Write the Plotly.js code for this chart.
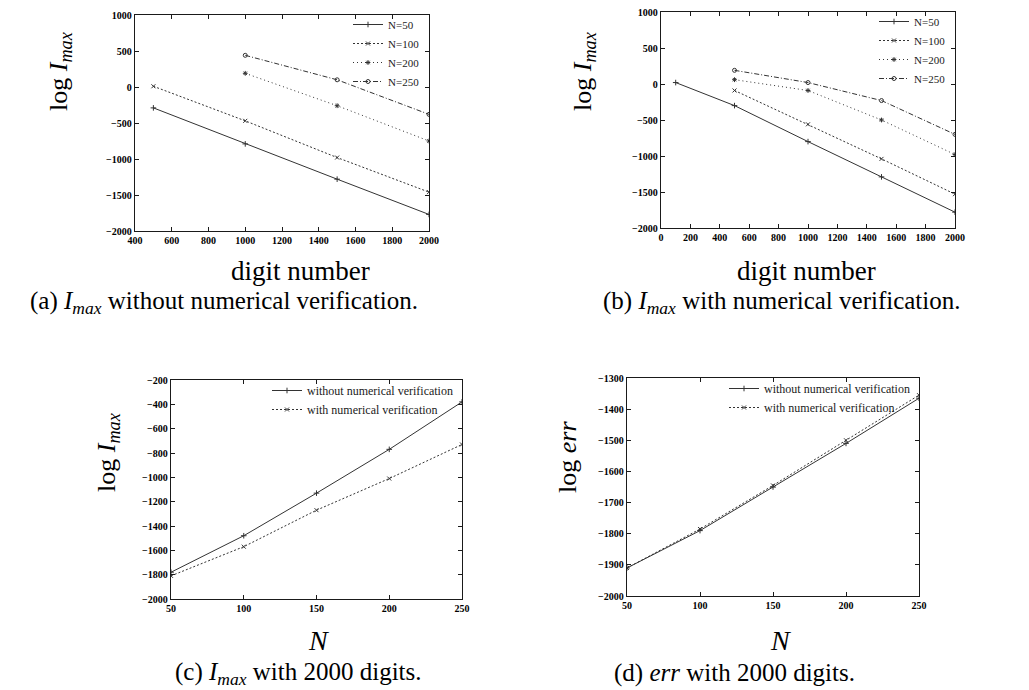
<!DOCTYPE html>
<html>
<head>
<meta charset="utf-8">
<script src="https://cdn.plot.ly/plotly-3.0.1.min.js"></script>
<style>html,body{margin:0;padding:0;background:#fff;}#chart{width:1029px;height:690px;}</style>
</head>
<body>
<div id="chart"></div>
<script>
// ---- data ----
// (a) Imax without numerical verification
const aDigits50 = [500, 1000, 1500, 2000];
const aN50 = [-290, -790, -1280, -1770];
const aDigits100 = [500, 1000, 1500, 2000];
const aN100 = [10, -470, -980, -1460];
const aDigits200 = [1000, 1500, 2000];
const aN200 = [190, -260, -750];
const aDigits250 = [1000, 1500, 2000];
const aN250 = [440, 100, -380];
// (b) Imax with numerical verification
const bDigits50 = [100, 500, 1000, 1500, 2000];
const bN50 = [20, -300, -800, -1290, -1780];
const bDigits = [500, 1000, 1500, 2000];
const bN100 = [-90, -560, -1040, -1530];
const bN200 = [60, -90, -500, -980];
const bN250 = [190, 20, -230, -700];
// (c) Imax with 2000 digits
const nValues = [50, 100, 150, 200, 250];
const cWithout = [-1780, -1480, -1130, -770, -380];
const cWith = [-1810, -1570, -1270, -1010, -730];
// (d) err with 2000 digits
const dWithout = [-1910, -1790, -1650, -1510, -1365];
const dWith = [-1910, -1785, -1645, -1500, -1355];

const legendLabels = ['N=50', 'N=100', 'N=200', 'N=250'];
const compLabels = ['without numerical verification', 'with numerical verification'];

// ---- styling ----
const W = 1029, H = 690;
const SERIF = 'Liberation Serif, Times New Roman, serif';
const INK = '#1a1a1a';
const LINE = '#333333';
const dx = (a, b) => [a / W, b / W];
const dy = (top, bot) => [1 - bot / H, 1 - top / H];

const styles = [
  {dash: 'solid', symbol: 'cross-thin-open', size: 4},
  {dash: '2px,2px', symbol: 'x-thin-open', size: 4},
  {dash: '1px,3px', symbol: 'asterisk-open', size: 4},
  {dash: '5px,2px,1px,2px', symbol: 'circle-open', size: 4}
];

function tr(x, y, name, i, xa, ya, leg) {
  const s = styles[i];
  return {
    x: x, y: y, name: name, type: 'scatter', mode: 'lines+markers',
    xaxis: xa, yaxis: ya, legend: leg,
    line: {color: LINE, width: 1, dash: s.dash},
    marker: {symbol: s.symbol, size: s.size, color: LINE, line: {color: LINE, width: 1}}
  };
}

const data = [
  tr(aDigits50, aN50, legendLabels[0], 0, 'x', 'y', 'legend'),
  tr(aDigits100, aN100, legendLabels[1], 1, 'x', 'y', 'legend'),
  tr(aDigits200, aN200, legendLabels[2], 2, 'x', 'y', 'legend'),
  tr(aDigits250, aN250, legendLabels[3], 3, 'x', 'y', 'legend'),
  tr(bDigits50, bN50, legendLabels[0], 0, 'x2', 'y2', 'legend2'),
  tr(bDigits, bN100, legendLabels[1], 1, 'x2', 'y2', 'legend2'),
  tr(bDigits, bN200, legendLabels[2], 2, 'x2', 'y2', 'legend2'),
  tr(bDigits, bN250, legendLabels[3], 3, 'x2', 'y2', 'legend2'),
  tr(nValues, cWithout, compLabels[0], 0, 'x3', 'y3', 'legend3'),
  tr(nValues, cWith, compLabels[1], 1, 'x3', 'y3', 'legend3'),
  tr(nValues, dWithout, compLabels[0], 0, 'x4', 'y4', 'legend4'),
  tr(nValues, dWith, compLabels[1], 1, 'x4', 'y4', 'legend4')
];

function axis(domain, range, dtick, anchor) {
  return {
    domain: domain, range: range, dtick: dtick, tick0: range[0], anchor: anchor,
    showgrid: false, zeroline: false, showline: true, linecolor: INK, linewidth: 1.3,
    mirror: 'ticks', ticks: 'inside', ticklen: 4, tickcolor: INK,
    tickfont: {family: SERIF, size: 10, color: '#000', weight: 'bold'}
  };
}

function legendBox(xr, ytop, fs) {
  return {
    x: xr / W, y: 1 - ytop / H, xanchor: 'right', yanchor: 'top',
    bgcolor: 'rgba(0,0,0,0)', borderwidth: 0,
    font: {family: SERIF, size: fs, color: INK},
    tracegroupgap: 0, itemwidth: 30
  };
}

const ann = [];
function txt(x, y, text, size, angle) {
  ann.push({xref: 'paper', yref: 'paper', x: x / W, y: 1 - y / H, text: text,
    showarrow: false, xanchor: 'center', yanchor: 'middle', textangle: angle || 0,
    font: {family: SERIF, size: size, color: '#000'}});
}
const IMAX = '<i>I</i><sub><i>max</i></sub>';
// y titles
txt(60, 72, 'log ' + IMAX, 26, -90);
txt(584, 72, 'log ' + IMAX, 26, -90);
txt(108, 453, 'log ' + IMAX, 26, -90);
txt(567, 457, 'log <i>err</i>', 26, -90);
// x titles
txt(300, 271, 'digit number', 27);
txt(806, 271, 'digit number', 27);
txt(318, 640, '<i>N</i>', 28);
txt(780, 640, '<i>N</i>', 28);
// captions
txt(224, 302, '(a) ' + IMAX + ' without numerical verification.', 25);
txt(782, 302, '(b) ' + IMAX + ' with numerical verification.', 25);
txt(298, 673, '(c) ' + IMAX + ' with 2000 digits.', 25);
txt(734, 673, '(d) <i>err</i> with 2000 digits.', 25);

const layout = {
  width: W, height: H,
  margin: {l: 0, r: 0, t: 0, b: 0},
  paper_bgcolor: '#fff', plot_bgcolor: '#fff',
  showlegend: true,
  xaxis: axis(dx(135, 429), [400, 2000], 200, 'y'),
  yaxis: axis(dy(15, 231), [-2000, 1000], 500, 'x'),
  xaxis2: axis(dx(661, 955), [0, 2000], 200, 'y2'),
  yaxis2: axis(dy(12, 228), [-2000, 1000], 500, 'x2'),
  xaxis3: axis(dx(171, 462), [50, 250], 50, 'y3'),
  yaxis3: axis(dy(380, 599), [-2000, -200], 200, 'x3'),
  xaxis4: axis(dx(627, 919), [50, 250], 50, 'y4'),
  yaxis4: axis(dy(378, 596), [-2000, -1300], 100, 'x4'),
  legend: legendBox(425, 10, 11),
  legend2: legendBox(951, 7, 11),
  legend3: legendBox(458, 376, 12),
  legend4: legendBox(915, 374, 12),
  annotations: ann
};

Plotly.newPlot('chart', data, layout, {staticPlot: true, displayModeBar: false});
</script>
</body>
</html>
